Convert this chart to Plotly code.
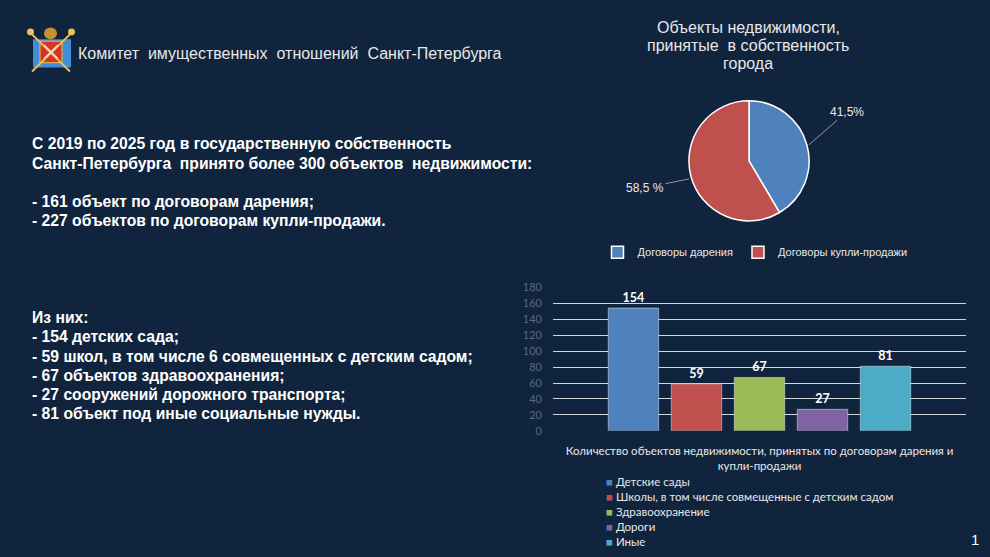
import plotly.graph_objects as go

W, H = 990, 557
BG = "#11243d"
TEXT = "#e8e8e8"

# pie: objects accepted into city ownership
pie_labels = ["Договоры дарения", "Договоры купли-продажи"]
pie_values = [161, 227]
pie_pct_text = ["41,5%", "58,5 %"]
pie_colors = ["#4f81bd", "#c0504d"]

# bars: objects by purpose
bar_category = "Количество объектов недвижимости, принятых по договорам дарения и<br>купли-продажи"
bar_names = [
    "Детские сады",
    "Школы, в том числе совмещенные с детским садом",
    "Здравоохранение",
    "Дороги",
    "Иные",
]
bar_values = [154, 59, 67, 27, 81]
bar_colors = ["#4f81bd", "#c0504d", "#9bbb59", "#8064a2", "#4bacc6"]
y_ticks = [0, 20, 40, 60, 80, 100, 120, 140, 160, 180]

header = "Комитет\u00a0 имущественных\u00a0 отношений\u00a0 Санкт-Петербурга"
pie_title = ["Объекты недвижимости,", "принятые\u00a0 в собственность", "города"]
intro_lines = [
    "С 2019 по 2025 год в государственную собственность",
    "Санкт-Петербурга\u00a0 принято более 300 объектов\u00a0 недвижимости:",
    "",
    "- 161 объект по договорам дарения;",
    "- 227 объектов по договорам купли-продажи.",
]
detail_lines = [
    "Из них:",
    "- 154 детских сада;",
    "- 59 школ, в том числе 6 совмещенных с детским садом;",
    "- 67 объектов здравоохранения;",
    "- 27 сооружений дорожного транспорта;",
    "- 81 объект под иные социальные нужды.",
]


def px(x):
    return x / W


def py(y):
    return 1 - y / H


fig = go.Figure()

fig.add_trace(go.Pie(
    labels=pie_labels, values=pie_values,
    marker=dict(colors=pie_colors, line=dict(color="white", width=1.5)),
    sort=False, direction="clockwise", textinfo="none",
    domain=dict(x=[px(687), px(811)], y=[py(219), py(96)]),
    legend="legend",
))

for name, val, col in zip(bar_names, bar_values, bar_colors):
    fig.add_trace(go.Bar(
        x=[bar_category], y=[val], name=name, marker_color=col,
        text=[val], textposition="outside", cliponaxis=False,
        textfont=dict(family="Lato, Noto Sans", size=12.5, color="white", weight="bold"),
        showlegend=False,
    ))

# bar legend as a compact list (plotly legend rows are too tall here)
legend_txt = "<br>".join(
    f'<span style="color:{c}">■</span> {n}' for n, c in zip(bar_names, bar_colors)
)

body_font = dict(family="Liberation Sans, Arial", size=15.7, color="white", weight="bold")
title_font = dict(family="Liberation Sans, Arial", size=16, color=TEXT)

annotations = [
    dict(text=header, x=px(76), y=py(48), xanchor="left", yanchor="middle",
         font=dict(family="Liberation Sans, Arial", size=16, color=TEXT), showarrow=False),
    dict(text=pie_pct_text[0], x=px(809), y=py(141), ax=38, ay=-33, showarrow=True,
         arrowhead=0, arrowwidth=1, arrowcolor="#8c96a3",
         font=dict(family="Liberation Sans, Arial", size=12, color=TEXT)),
    dict(text=pie_pct_text[1], x=px(689), y=py(176), ax=-44, ay=9, showarrow=True,
         arrowhead=0, arrowwidth=1, arrowcolor="#8c96a3",
         font=dict(family="Liberation Sans, Arial", size=12, color=TEXT)),
    dict(text=legend_txt, x=px(604), y=py(517), xanchor="left", yanchor="middle", align="left",
         font=dict(family="Lato, Noto Sans", size=11.5, color=TEXT), showarrow=False),
    dict(text="1", x=px(975), y=py(545), xanchor="center", yanchor="middle",
         font=dict(family="Liberation Sans, Arial", size=15, color="white"), showarrow=False),
]

# text blocks, one line each so the line pitch matches the slide
for i, line in enumerate(pie_title):
    annotations.append(dict(text=line, x=px(748), y=py(21 + 18.6 * i), xanchor="center",
                            yanchor="middle", font=title_font, showarrow=False))
for i, line in enumerate(intro_lines):
    if line:
        annotations.append(dict(text=line, x=px(30), y=py(140 + 19.75 * i), xanchor="left",
                                yanchor="middle", font=body_font, showarrow=False))
for i, line in enumerate(detail_lines):
    annotations.append(dict(text=line, x=px(30), y=py(318 + 19.7 * i), xanchor="left",
                            yanchor="middle", font=body_font, showarrow=False))

for a in annotations:
    a.setdefault("xref", "paper")
    a.setdefault("yref", "paper")


# simplified coat of arms
def shp(kind, x0, y0, x1, y1, **kw):
    return dict(type=kind, xref="paper", yref="paper",
                x0=px(x0), x1=px(x1), y0=py(y0), y1=py(y1), **kw)


shapes = [
    shp("rect", 33, 33, 71, 62, fillcolor="#3f8fd8", line=dict(width=0)),
    shp("rect", 40, 35, 62, 57, fillcolor="#d8322a", line=dict(color="#f0c040", width=1)),
    shp("circle", 44, 21, 57, 33, fillcolor="#c8902f", line=dict(width=0)),
    shp("line", 30, 26, 70, 66, line=dict(color="#e9c25a", width=2)),
    shp("line", 72, 26, 32, 66, line=dict(color="#e9c25a", width=2)),
    shp("circle", 27, 22, 34, 29, fillcolor="#e9c25a", line=dict(width=0)),
    shp("circle", 68, 22, 75, 29, fillcolor="#e9c25a", line=dict(width=0)),
    shp("line", 44, 39, 58, 53, line=dict(color="#f3e6c0", width=1.5)),
    shp("line", 58, 39, 44, 53, line=dict(color="#f3e6c0", width=1.5)),
]

fig.update_layout(
    width=W, height=H,
    margin=dict(l=0, r=0, t=0, b=0),
    paper_bgcolor=BG, plot_bgcolor=BG,
    barmode="group", bargap=0.237, bargroupgap=0.2,
    xaxis=dict(
        domain=[px(553), px(966)], range=[-0.5, 0.5], showgrid=False, zeroline=False,
        showline=False, ticks="", ticklabelstandoff=12,
        tickfont=dict(family="Lato, Noto Sans", size=11.5, color=TEXT),
    ),
    yaxis=dict(
        domain=[py(434), py(287)], range=[0, 180], tickvals=y_ticks,
        gridcolor="#d3d7dd", gridwidth=1.3, zeroline=False, showline=False,
        ticklabelstandoff=10,
        tickfont=dict(family="Lato, Noto Sans", size=11, color="#5d6a7c"),
    ),
    legend=dict(
        orientation="h", x=px(755), xanchor="center", y=py(251), yanchor="middle",
        font=dict(family="Liberation Sans, Arial", size=11, color=TEXT),
        bgcolor="rgba(0,0,0,0)", itemwidth=30,
    ),
    annotations=annotations,
    shapes=shapes,
)

fig.write_html(
    "out.html",
    config={"displayModeBar": False},
    post_script="document.body.style.margin='0';document.body.style.background='%s';" % BG,
)
